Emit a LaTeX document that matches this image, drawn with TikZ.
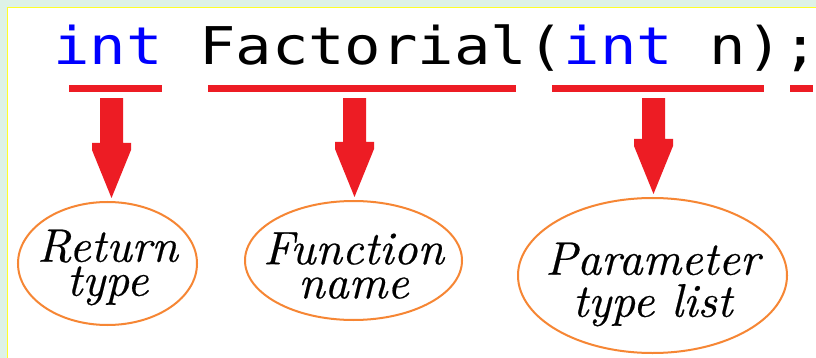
\documentclass[tikz,border=0pt]{standalone}
\usepackage{fontspec}
\usetikzlibrary{calc,shapes.geometric}
\newfontfamily\codefont[FakeStretch=1.165]{DejaVu Sans Mono}
\newfontfamily\ovalfont[Extension=.otf, UprightFont=*-regular, ItalicFont=*-italic, FakeBold=0.4]{lmroman10}
\definecolor{bggreen}{RGB}{222,242,231}
\definecolor{edgeyellow}{RGB}{255,255,40}
\definecolor{markred}{RGB}{237,28,36}
\definecolor{ovalorange}{RGB}{246,134,52}
\definecolor{codeblue}{RGB}{0,0,255}
\tikzset{
  uline/.style={rectangle, fill=markred, inner sep=0pt, minimum height=7pt},
  oval/.style={ellipse, draw=ovalorange, line width=2pt, inner xsep=-60pt, inner ysep=-40pt, align=center,
    font=\fontsize{47}{34}\selectfont\ovalfont\itshape},
  blockarrow/.style={to path={
    let \p1=(\tikztostart), \p2=(\tikztotarget) in
    (\x1-11.5pt,\y1) -- (\x1+11.5pt,\y1) -- (\x1+11.5pt,\y2+55pt) -- (\x1+19.5pt,\y2+55pt)
    -- (\x1+19.5pt,\y2+48pt) -- (\x2,\y2) -- (\x1-19.5pt,\y2+48pt) -- (\x1-19.5pt,\y2+55pt)
    -- (\x1-11.5pt,\y2+55pt) -- cycle}}
}
\begin{document}
\begin{tikzpicture}[x=1pt,y=-1pt]
\useasboundingbox (0,0) rectangle (816,358);
\fill[bggreen] (0,0) rectangle (816,358);
\fill[white] (7.5,7.5) rectangle (816,358);
\draw[edgeyellow, line width=1pt] (7.5,358) -- (7.5,7.5) -- (816,7.5);

\node[anchor=base west, inner sep=0pt, font=\fontsize{52}{52}\selectfont\codefont] (code) at (53,65)
  {{\color{codeblue}int} Factorial({\color{codeblue}int} n);};

\node[uline, minimum width=93pt]  (u1) at (115.5,88.5) {};
\node[uline, minimum width=308pt] (u2) at (362,88.5) {};
\node[uline, minimum width=212pt] (u3) at (658,88.5) {};
\node[uline, minimum width=23pt]  (u4) at (801.5,88.5) {};

\node[oval, minimum width=179pt, minimum height=123pt] (e1) at (107.5,263.5) {\rule{0pt}{40pt}Return\\type};
\node[oval, minimum width=217pt, minimum height=119pt] (e2) at (353.5,260.5) {\rule{0pt}{42pt}Function\\name};
\node[oval, minimum width=269pt, minimum height=155pt, font=\fontsize{47}{42}\selectfont\ovalfont\itshape] (e3) at (652.5,275.5) {\rule{0pt}{50pt}Parameter\\type list};

\fill[markred] ($(e1.north |- u1.south)+(4,6)$) to[blockarrow] ($(e1.north)+(4,-3)$);
\fill[markred] ($(e2.north |- u2.south)+(1,6)$) to[blockarrow] ($(e2.north)+(1,-3)$);
\fill[markred] ($(e3.north |- u3.south)+(1,6)$) to[blockarrow] ($(e3.north)+(1,-3)$);
\end{tikzpicture}
\end{document}
